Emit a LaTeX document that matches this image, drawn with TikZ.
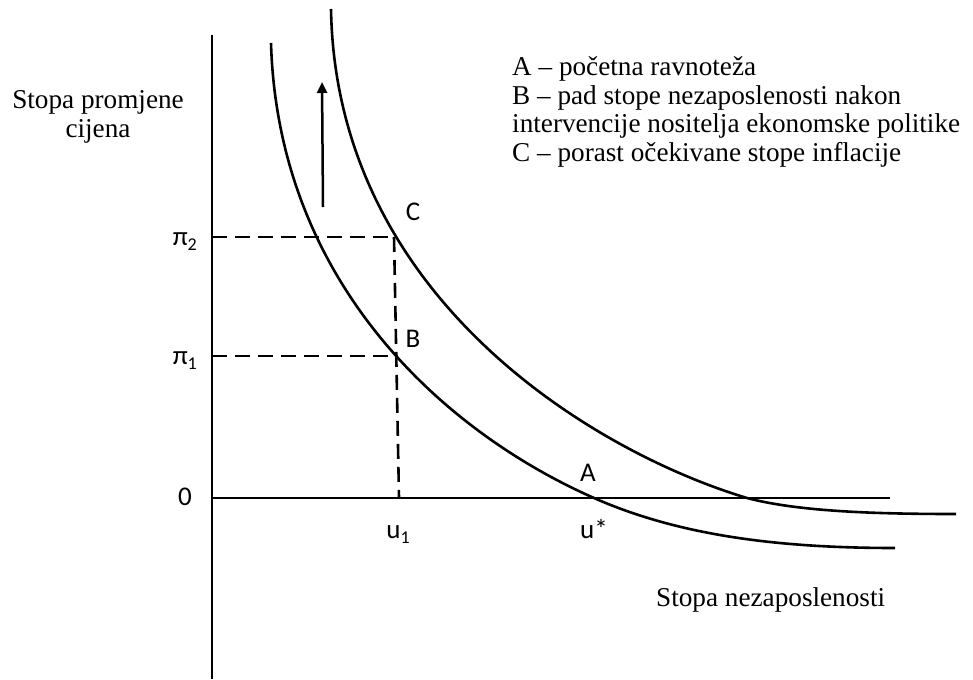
\documentclass[tikz,border=0pt]{standalone}
\usepackage{fontspec}
\setmainfont{Liberation Serif}
\newfontfamily\calib{Carlito}
\usetikzlibrary{arrows.meta}
\newcommand\sbs[1]{\raisebox{-5pt}{\fontsize{18}{18}\selectfont #1}}
\tikzset{
  curve/.style={line width=2.6pt, line join=round},
  axis/.style={line width=2.8pt},
  guide/.style={line width=2.6pt, dash pattern=on 15pt off 8pt},
  serif/.style={font=\fontsize{27.2}{32}\selectfont, anchor=base west, inner sep=0pt},
  lbl/.style={font=\calib\fontsize{27}{30}\selectfont, anchor=base, inner sep=0pt},
}
\begin{document}
\begin{tikzpicture}[x=1pt,y=-1pt]
\useasboundingbox (0,0) rectangle (973,679);
% axes
\coordinate (O) at (212,498);
\coordinate (Ytop) at (212,35);
\coordinate (Ybot) at (212,679);
\coordinate (Xend) at (890,498);
\draw[axis] (Ytop) -- (Ybot);
\draw[axis] (O) -- (Xend);
% key points
\coordinate (A) at (594,498);
\coordinate (B) at (398,356);
\coordinate (C) at (394,237);
\coordinate (P1) at (212,356);
\coordinate (P2) at (212,237);
\coordinate (U1) at (399,498);
% guides
\draw[guide] (P2) -- (C);
\draw[guide] (P1) -- (B);
\draw[guide] (C) -- (U1);
% lower curve
\coordinate (L0) at (271,43);
\coordinate (L3) at (895,548);
\draw[curve] (L0) .. controls (278,280) and (440,430) .. (A)
                  .. controls (680,536) and (780,548) .. (L3);
% upper curve
\coordinate (U0) at (331,9);
\coordinate (UM) at (747,498);
\coordinate (U3) at (956,514);
\draw[curve] (U0) .. controls (336,300) and (597,453) .. (UM)
                  .. controls (800,512) and (880,514) .. (U3);
% arrow
\coordinate (ArrS) at (323,207);
\coordinate (ArrE) at (322,82);
\draw[line width=2.5pt, -{Triangle[length=11pt,width=10pt]}] (ArrS) -- (ArrE);
% labels
\node[lbl] (la) at (588,481) {A};
\node[lbl] (lb) at (413,347) {B};
\node[lbl] (lc) at (413,220) {C};
\node[lbl, anchor=base east] (lp2) at (197,245) {π\sbs{2}};
\node[lbl, anchor=base east] (lp1) at (197,364) {π\sbs{1}};
\node[lbl, anchor=base east] (l0) at (192,505) {0};
\node[lbl] (lu1) at (398,538) {u\sbs{1}};
\node[lbl] (lus) at (594,538) {u*};
% axis titles
\node[serif, anchor=base] (yt1) at (98,109) {Stopa promjene};
\node[serif, anchor=base] (yt2) at (98,138) {cijena};
\node[serif] (xt) at (656,606) {Stopa nezaposlenosti};
% legend
\node[serif] (g1) at (512,76) {A – početna ravnoteža};
\node[serif] (g2) at (512,104.5) {B – pad stope nezaposlenosti nakon};
\node[serif] (g3) at (512,133) {intervencije nositelja ekonomske politike};
\node[serif] (g4) at (512,161.5) {C – porast očekivane stope inflacije};
\end{tikzpicture}
\end{document}
